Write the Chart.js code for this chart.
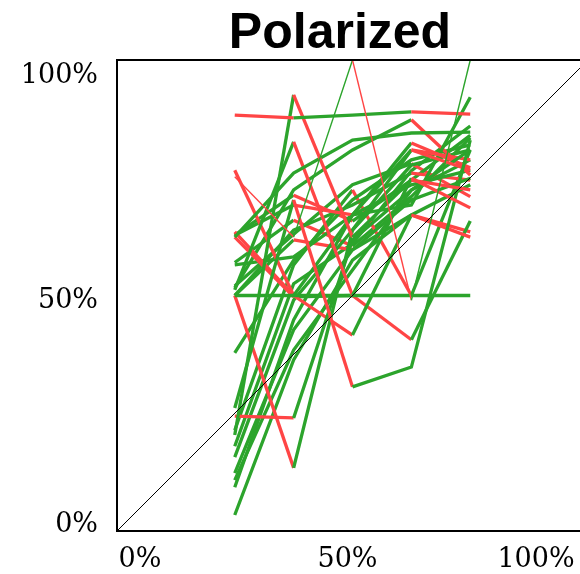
<!DOCTYPE html>
<html>
<head>
<meta charset="utf-8">
<title>Polarized</title>
<script src="https://cdn.jsdelivr.net/npm/chart.js@4.4.1/dist/chart.umd.min.js"></script>
<style>
  html, body { margin: 0; padding: 0; background: #ffffff; overflow: hidden; }
  #wrap { width: 620px; height: 574px; }
</style>
</head>
<body>
<div id="wrap"><canvas id="chart" width="620" height="574"></canvas></div>
<script>
// ======================================
// Data
// ======================================

const titleText = "Polarized";

// x position of each round (%)
const rounds = [25, 37.5, 50, 62.5, 75];

// axis ticks
const tickValues = [0, 50, 100];
const tickLabels = ["0%", "50%", "100%"];

// share (%) per round, one array per tracked item
const s01 = [88.3, 87.7, 88.3, 89.0, 88.5];
const s02 = [20.4, 92.6, 62.4, 74.5, 72.4];
const s03 = [62.4, 76.0, 83.0, 84.5, 84.7];
const s04 = [51.2, 82.6, 50.0, 74.9, 68.6];
const s05 = [26.1, 70.3, 30.6, 34.8, 83.0];
const s06 = [50.0, 50.0, 50.0, 50.0, 50.0];
const s07 = [50.0, 13.4, 63.9, 80.9, 76.6];
const s08 = [24.4, 24.0, 61.8, 72.4, 80.9];
const s09 = [76.6, 50.0, 67.1, 82.4, 77.1];
const s10 = [63.5, 50.0, 41.6, 67.1, 62.4];
const s11 = [62.4, 49.7, 50.0, 40.6, 65.8];
const s12 = [62.8, 69.2, 67.1, 80.9, 78.8];
const s13 = [56.5, 58.2, 67.1, 69.2, 92.1];
const s14 = [51.6, 72.4, 80.9, 87.3, 75.6];
const s15 = [37.8, 57.5, 70.3, 78.8, 82.0];
const s16 = [15.7, 49.0, 63.9, 77.7, 80.9];
const s17 = [12.3, 42.7, 59.7, 70.3, 74.9];
const s18 = [10.8, 38.4, 55.4, 72.4, 78.8];
const s19 = [9.3, 44.8, 67.1, 73.5, 76.6];
const s20 = [3.4, 36.3, 57.5, 67.1, 73.5];
const s21 = [50.0, 63.9, 69.2, 76.0, 74.5];
const s22 = [50.0, 61.8, 59.7, 67.1, 63.5];
const s23 = [21.4, 56.5, 72.4, 50.0, 80.9];
const s24 = [62.8, 71.3, 65.8, 74.5, 84.0];
const s25 = [52.0, 63.0, 73.5, 78.0, 71.0];
const s26 = [18.0, 52.5, 61.0, 76.5, 86.0];
const s27 = [57.0, 66.0, 60.5, 71.0, 83.5];

// low-weight item, drawn thin
const t01 = [75.2, 62.4, 100.0, 49.0, 100.0];

const mainSeries = [s01, s02, s03, s04, s05, s06, s07, s08, s09, s10, s11, s12,
                    s13, s14, s15, s16, s17, s18, s19, s20, s21, s22, s23,
                    s24, s25, s26, s27];
const thinSeries = [t01];

// ======================================
// Styling
// ======================================

const UP = "#2ca42c";
const DOWN = "#ff4545";

const serif = "'DejaVu Serif', serif";
const sans = "'Liberation Sans', Arial, sans-serif";

function toPoints(values) {
    return values.map((v, i) => ({ x: rounds[i], y: v }));
}

// green when the share holds or rises, red when it drops
const segmentColor = {
    borderColor: ctx => ctx.p1.parsed.y >= ctx.p0.parsed.y ? UP : DOWN
};

function lineSet(values, width) {
    return {
        data: toPoints(values),
        borderColor: UP,
        borderWidth: width,
        pointRadius: 0,
        fill: false,
        tension: 0,
        segment: segmentColor
    };
}

// diagonal goes first so it ends up on top
const datasets = [{
    data: [{ x: 0, y: 0 }, { x: 100, y: 100 }],
    borderColor: "#000000",
    borderWidth: 1,
    pointRadius: 0,
    fill: false
}];

thinSeries.forEach(s => datasets.push(lineSet(s, 1.4)));
mainSeries.forEach(s => datasets.push(lineSet(s, 3.3)));

// ======================================
// Frame, title and tick labels
// ======================================

const framePlugin = {
    id: "frame",
    afterDatasetsDraw(chart) {
        const { ctx, chartArea: a, scales } = chart;
        ctx.save();

        ctx.strokeStyle = "#000000";
        ctx.lineWidth = 2;
        ctx.strokeRect(a.left, a.top, a.right - a.left, a.bottom - a.top);

        ctx.fillStyle = "#000000";

        // title
        ctx.font = "bold 50px " + sans;
        ctx.textAlign = "center";
        ctx.textBaseline = "alphabetic";
        ctx.fillText(titleText, a.left + 223, 48);

        // tick labels sit slightly inside the ends of each axis
        ctx.font = "27px " + serif;
        const yNudge = [1, 12.5, 23];
        const xNudge = [23, -5, -52];

        ctx.textAlign = "right";
        tickValues.forEach((v, i) => {
            ctx.fillText(tickLabels[i], a.left - 19, scales.y.getPixelForValue(v) + yNudge[i]);
        });

        ctx.textAlign = "center";
        tickValues.forEach((v, i) => {
            ctx.fillText(tickLabels[i], scales.x.getPixelForValue(v) + xNudge[i], a.bottom + 36);
        });

        ctx.restore();
    }
};

// ======================================
// Chart
// ======================================

new Chart(document.getElementById("chart"), {

    type: "line",

    data: { datasets: datasets },

    options: {

        responsive: false,

        animation: false,

        layout: {
            padding: { left: 117, right: 32, top: 60, bottom: 43 }
        },

        plugins: {
            legend: { display: false },
            title: { display: false },
            tooltip: { enabled: false }
        },

        scales: {
            x: { type: "linear", min: 0, max: 100, display: false },
            y: { type: "linear", min: 0, max: 100, display: false }
        }

    },

    plugins: [framePlugin]

});
</script>
</body>
</html>
